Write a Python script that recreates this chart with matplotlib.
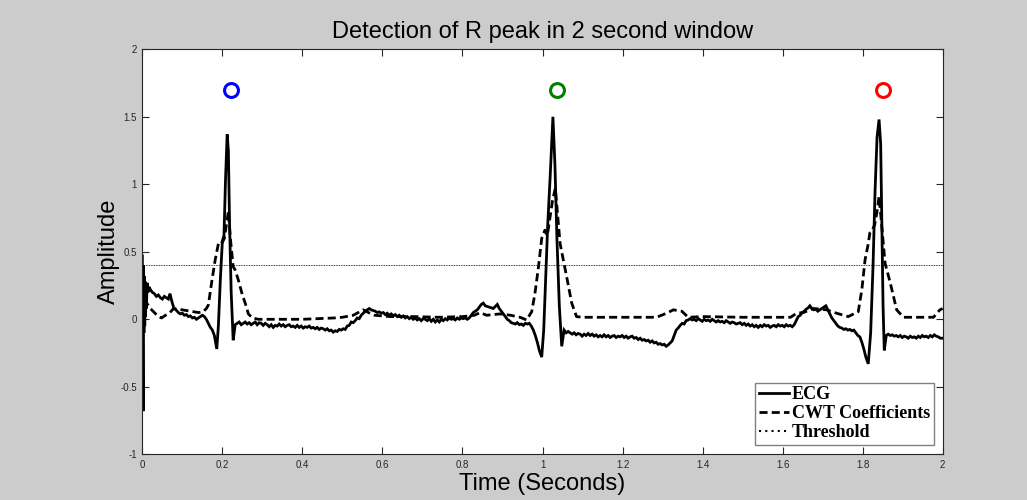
import numpy as np
import matplotlib
matplotlib.use("Agg")
import matplotlib.pyplot as plt

# ECG trace (time in s, amplitude)
ecg_t = [0.000, 0.002, 0.003, 0.004, 0.005, 0.006, 0.007, 0.008, 0.009, 0.010,
         0.012, 0.014, 0.017, 0.020, 0.025, 0.030, 0.035, 0.040, 0.045, 0.050,
         0.055, 0.060, 0.065, 0.069, 0.074, 0.079, 0.084, 0.090, 0.095, 0.100,
         0.105, 0.110, 0.115, 0.120, 0.125, 0.130, 0.135, 0.140, 0.145, 0.150,
         0.155, 0.160, 0.165, 0.170, 0.175, 0.180, 0.186, 0.190, 0.195, 0.200,
         0.204, 0.208, 0.212, 0.215, 0.218, 0.222, 0.227, 0.232, 0.237, 0.242,
         0.247, 0.252, 0.257, 0.262, 0.267, 0.272, 0.277, 0.282, 0.287, 0.292,
         0.297, 0.302, 0.307, 0.312, 0.317, 0.322, 0.327, 0.332, 0.337, 0.342,
         0.347, 0.352, 0.357, 0.362, 0.367, 0.372, 0.377, 0.382, 0.387, 0.392,
         0.397, 0.402, 0.407, 0.412, 0.417, 0.422, 0.427, 0.432, 0.437, 0.442,
         0.447, 0.452, 0.457, 0.462, 0.467, 0.472, 0.477, 0.482, 0.487, 0.492,
         0.497, 0.502, 0.507, 0.512, 0.517, 0.522, 0.527, 0.532, 0.537, 0.542,
         0.547, 0.552, 0.557, 0.562, 0.567, 0.572, 0.577, 0.582, 0.587, 0.592,
         0.597, 0.602, 0.607, 0.612, 0.617, 0.622, 0.627, 0.632, 0.637, 0.642,
         0.647, 0.652, 0.657, 0.662, 0.667, 0.672, 0.677, 0.682, 0.687, 0.692,
         0.697, 0.702, 0.707, 0.712, 0.717, 0.722, 0.727, 0.732, 0.737, 0.742,
         0.747, 0.752, 0.757, 0.762, 0.767, 0.772, 0.777, 0.782, 0.787, 0.792,
         0.797, 0.802, 0.807, 0.812, 0.817, 0.822, 0.827, 0.832, 0.837, 0.842,
         0.847, 0.852, 0.857, 0.862, 0.867, 0.872, 0.877, 0.882, 0.887, 0.892,
         0.897, 0.902, 0.907, 0.912, 0.917, 0.922, 0.927, 0.932, 0.937, 0.942,
         0.947, 0.952, 0.957, 0.962, 0.967, 0.972, 0.977, 0.982, 0.987, 0.992,
         0.998, 1.003, 1.008, 1.013, 1.019, 1.026, 1.031, 1.036, 1.042, 1.048,
         1.054, 1.059, 1.064, 1.069, 1.074, 1.079, 1.084, 1.089, 1.094, 1.099,
         1.104, 1.109, 1.114, 1.119, 1.124, 1.129, 1.134, 1.139, 1.144, 1.149,
         1.154, 1.159, 1.164, 1.169, 1.174, 1.179, 1.184, 1.189, 1.194, 1.199,
         1.204, 1.209, 1.214, 1.219, 1.224, 1.229, 1.234, 1.239, 1.244, 1.249,
         1.254, 1.259, 1.264, 1.269, 1.274, 1.279, 1.284, 1.289, 1.294, 1.299,
         1.304, 1.309, 1.314, 1.319, 1.324, 1.329, 1.334, 1.339, 1.344, 1.349,
         1.354, 1.359, 1.364, 1.369, 1.374, 1.379, 1.384, 1.389, 1.394, 1.399,
         1.404, 1.409, 1.414, 1.419, 1.424, 1.429, 1.434, 1.439, 1.444, 1.449,
         1.454, 1.459, 1.464, 1.469, 1.474, 1.479, 1.484, 1.489, 1.494, 1.499,
         1.504, 1.509, 1.514, 1.519, 1.524, 1.529, 1.534, 1.539, 1.544, 1.549,
         1.554, 1.559, 1.564, 1.569, 1.574, 1.579, 1.584, 1.589, 1.594, 1.599,
         1.604, 1.609, 1.614, 1.619, 1.624, 1.629, 1.634, 1.639, 1.644, 1.649,
         1.654, 1.659, 1.664, 1.668, 1.673, 1.678, 1.683, 1.688, 1.693, 1.698,
         1.703, 1.708, 1.713, 1.718, 1.723, 1.728, 1.733, 1.738, 1.743, 1.748,
         1.753, 1.758, 1.763, 1.768, 1.773, 1.778, 1.783, 1.788, 1.793, 1.798,
         1.803, 1.808, 1.814, 1.820, 1.826, 1.831, 1.836, 1.841, 1.845, 1.848,
         1.851, 1.854, 1.859, 1.864, 1.869, 1.874, 1.879, 1.884, 1.889, 1.894,
         1.899, 1.904, 1.909, 1.914, 1.919, 1.924, 1.929, 1.934, 1.939, 1.944,
         1.949, 1.954, 1.959, 1.964, 1.969, 1.974, 1.979, 1.984, 1.989, 1.994,
         2.000]
ecg_v = [0.47, -0.68, 0.40, -0.10, 0.32, -0.05, 0.28, 0.02, 0.25, 0.08,
         0.27, 0.20, 0.24, 0.22, 0.20, 0.19, 0.17, 0.18, 0.16, 0.15,
         0.17, 0.16, 0.15, 0.19, 0.13, 0.08, 0.07, 0.05, 0.04, 0.045,
         0.03, 0.035, 0.02, 0.025, 0.01, 0.015, 0.0, 0.01, 0.02, 0.03,
         0.02, 0.0, -0.03, -0.06, -0.08, -0.12, -0.22, -0.05, 0.30, 0.58,
         0.62, 1.05, 1.37, 1.25, 0.70, 0.20, -0.155, -0.04, -0.03, -0.02,
         -0.04, -0.03, -0.02, -0.035, -0.025, -0.04, -0.03, -0.02, -0.04, -0.025,
         -0.03, -0.045, -0.03, -0.04, -0.055, -0.04, -0.06, -0.045, -0.05, -0.035,
         -0.05, -0.04, -0.055, -0.045, -0.04, -0.055, -0.05, -0.06, -0.045, -0.06,
         -0.05, -0.065, -0.055, -0.06, -0.05, -0.065, -0.06, -0.07, -0.06, -0.075,
         -0.065, -0.07, -0.08, -0.07, -0.085, -0.08, -0.095, -0.085, -0.09, -0.075,
         -0.08, -0.07, -0.075, -0.05, -0.045, -0.02, -0.025, -0.01, 0.01, 0.005,
         0.03, 0.045, 0.06, 0.07, 0.08, 0.07, 0.065, 0.06, 0.05, 0.055,
         0.045, 0.05, 0.035, 0.045, 0.03, 0.04, 0.025, 0.035, 0.02, 0.03,
         0.015, 0.025, 0.01, 0.02, 0.005, 0.015, 0.0, 0.01, -0.005, 0.005,
         -0.01, 0.005, 0.0, -0.01, 0.005, -0.015, 0.0, -0.02, -0.005, -0.02,
         0.0, -0.01, 0.005, -0.005, 0.01, 0.0, 0.005, -0.005, 0.01, 0.0,
         0.01, 0.005, 0.01, 0.0, 0.01, 0.03, 0.05, 0.06, 0.07, 0.09,
         0.11, 0.12, 0.10, 0.095, 0.09, 0.085, 0.08, 0.095, 0.11, 0.08,
         0.06, 0.04, 0.02, 0.0, -0.01, -0.025, -0.03, -0.035, -0.025, -0.04,
         -0.035, -0.045, -0.03, -0.035, -0.03, -0.05, -0.08, -0.12, -0.17, -0.23,
         -0.28, -0.08, 0.30, 0.70, 1.05, 1.50, 1.15, 0.60, 0.10, -0.20,
         -0.08, -0.10, -0.09, -0.10, -0.11, -0.10, -0.115, -0.105, -0.11, -0.125,
         -0.11, -0.12, -0.105, -0.12, -0.11, -0.125, -0.115, -0.13, -0.12, -0.13,
         -0.115, -0.13, -0.12, -0.135, -0.125, -0.12, -0.135, -0.125, -0.13, -0.12,
         -0.135, -0.125, -0.14, -0.13, -0.125, -0.14, -0.135, -0.15, -0.14, -0.155,
         -0.15, -0.16, -0.155, -0.17, -0.16, -0.175, -0.17, -0.185, -0.18, -0.19,
         -0.185, -0.20, -0.19, -0.175, -0.16, -0.12, -0.08, -0.065, -0.045, -0.03,
         -0.035, -0.01, -0.005, 0.005, -0.005, 0.0, -0.01, 0.005, -0.005, -0.015,
         0.0, -0.01, -0.005, -0.015, 0.0, -0.01, -0.02, -0.01, -0.02, -0.015,
         -0.025, -0.01, -0.02, -0.03, -0.02, -0.025, -0.035, -0.03, -0.025, -0.04,
         -0.03, -0.045, -0.035, -0.05, -0.04, -0.055, -0.045, -0.06, -0.045, -0.055,
         -0.04, -0.05, -0.045, -0.06, -0.05, -0.045, -0.055, -0.04, -0.05, -0.045,
         -0.055, -0.04, -0.05, -0.045, -0.055, -0.04, -0.01, 0.02, 0.03, 0.05,
         0.06, 0.075, 0.085, 0.10, 0.08, 0.07, 0.075, 0.06, 0.07, 0.08,
         0.09, 0.10, 0.07, 0.04, 0.01, -0.01, -0.03, -0.05, -0.06, -0.065,
         -0.075, -0.07, -0.08, -0.075, -0.085, -0.08, -0.10, -0.12, -0.13, -0.17,
         -0.22, -0.28, -0.33, -0.10, 0.40, 0.95, 1.35, 1.48, 1.30, 0.70,
         0.10, -0.23, -0.12, -0.11, -0.12, -0.115, -0.125, -0.12, -0.13, -0.12,
         -0.135, -0.125, -0.13, -0.14, -0.125, -0.135, -0.13, -0.14, -0.125, -0.135,
         -0.12, -0.13, -0.125, -0.135, -0.12, -0.13, -0.115, -0.125, -0.13, -0.14,
         -0.14]

# CWT coefficients trace
cwt_t = [0.003, 0.011, 0.020, 0.030, 0.040, 0.048, 0.058, 0.069, 0.078, 0.090,
         0.100, 0.110, 0.120, 0.130, 0.140, 0.152, 0.160, 0.165, 0.173, 0.182,
         0.190, 0.196, 0.200, 0.205, 0.210, 0.215, 0.220, 0.227, 0.232, 0.240,
         0.250, 0.257, 0.265, 0.275, 0.290, 0.320, 0.360, 0.400, 0.440, 0.480,
         0.500, 0.527, 0.552, 0.565, 0.580, 0.620, 0.680, 0.740, 0.800, 0.830,
         0.844, 0.860, 0.894, 0.920, 0.944, 0.960, 0.973, 0.981, 0.990, 0.998,
         1.006, 1.012, 1.018, 1.025, 1.032, 1.037, 1.044, 1.060, 1.073, 1.085,
         1.100, 1.285, 1.310, 1.327, 1.348, 1.364, 1.400, 1.500, 1.620, 1.635,
         1.652, 1.677, 1.710, 1.735, 1.764, 1.781, 1.789, 1.798, 1.806, 1.814,
         1.818, 1.824, 1.830, 1.836, 1.841, 1.846, 1.856, 1.869, 1.885, 1.902,
         1.977, 1.993, 2.000]
cwt_v = [0.15, 0.12, 0.08, 0.05, 0.02, 0.01, 0.03, 0.05, 0.08, 0.075,
         0.07, 0.065, 0.06, 0.055, 0.05, 0.056, 0.08, 0.106, 0.27, 0.44,
         0.56, 0.58, 0.57, 0.60, 0.70, 0.80, 0.60, 0.39, 0.365, 0.29,
         0.18, 0.12, 0.04, 0.01, 0.0, 0.0, 0.0, 0.0, 0.005, 0.01,
         0.015, 0.03, 0.07, 0.05, 0.03, 0.02, 0.02, 0.015, 0.02, 0.03,
         0.05, 0.03, 0.04, 0.03, 0.015, -0.005, 0.056, 0.19, 0.39, 0.60,
         0.66, 0.62, 0.74, 0.88, 0.97, 0.80, 0.56, 0.32, 0.12, 0.02,
         0.015, 0.015, 0.045, 0.07, 0.06, 0.015, 0.02, 0.015, 0.015, 0.045,
         0.05, 0.08, 0.07, 0.045, 0.02, 0.045, 0.056, 0.22, 0.44, 0.56,
         0.64, 0.66, 0.70, 0.80, 0.91, 0.75, 0.415, 0.27, 0.07, 0.015,
         0.015, 0.07, 0.08]

threshold = 0.4
peak_t = [0.221, 1.037, 1.851]
peak_level = 1.70
peak_colors = ["#0000ff", "#008000", "#ff0000"]

xticks = [0, 0.2, 0.4, 0.6, 0.8, 1, 1.2, 1.4, 1.6, 1.8, 2]
xticklabels = ["0", "0.2", "0.4", "0.6", "0.8", "1", "1.2", "1.4", "1.6", "1.8", "2"]
yticks = [-1, -0.5, 0, 0.5, 1, 1.5, 2]
yticklabels = ["-1", "-0.5", "0", "0.5", "1", "1.5", "2"]

plt.rcParams["font.family"] = ["Liberation Sans", "DejaVu Sans"]

fig = plt.figure(figsize=(10.27, 5.0), dpi=100, facecolor="#cccccc")
ax = fig.add_axes([0.1386, 0.0914, 0.7793, 0.81])
ax.set_facecolor("white")

ax.plot(ecg_t, ecg_v, color="black", lw=2.0, solid_joinstyle="miter", label="ECG")
ax.plot(cwt_t, cwt_v, color="black", lw=2.0, linestyle=(0, (2.9, 1.5)),
        label="CWT Coefficients")
ax.plot([0, 2], [threshold, threshold], color="black", lw=0.6,
        linestyle=(0, (1, 1)), label="Threshold")

for t, c in zip(peak_t, peak_colors):
    ax.plot([t], [peak_level], marker="o", markersize=10, markerfacecolor="none",
            markeredgecolor=c, markeredgewidth=2.2, linestyle="none")

ax.set_xlim(0, 2)
ax.set_ylim(-1, 2)
ax.set_xticks(xticks)
ax.set_xticklabels(xticklabels)
ax.set_yticks(yticks)
ax.set_yticklabels(yticklabels)
ax.tick_params(direction="in", length=5, width=0.8, top=True, right=True,
               labelsize=7, colors="#262626", pad=4)
for sp in ax.spines.values():
    sp.set_color("#262626")
    sp.set_linewidth(0.8)

ax.set_title("Detection of R peak in 2 second window", fontsize=17, pad=8)
ax.set_xlabel("Time (Seconds)", fontsize=17, labelpad=2)
ax.set_ylabel("Amplitude", fontsize=17, labelpad=0)

leg = ax.legend(loc="lower right", bbox_to_anchor=(0.989, 0.024), borderaxespad=0,
                prop={"family": "Liberation Serif", "weight": "bold", "size": 13},
                fancybox=False, framealpha=1, edgecolor="#808080",
                handlelength=1.7, handletextpad=0.15, labelspacing=0.1,
                borderpad=0.2)
leg.get_frame().set_linewidth(1.0)
leg_lines = leg.get_lines()
leg_lines[2].set_linewidth(1.5)
leg_lines[2].set_linestyle((0, (1, 2)))

fig.savefig("out.png", dpi=100, facecolor=fig.get_facecolor())
